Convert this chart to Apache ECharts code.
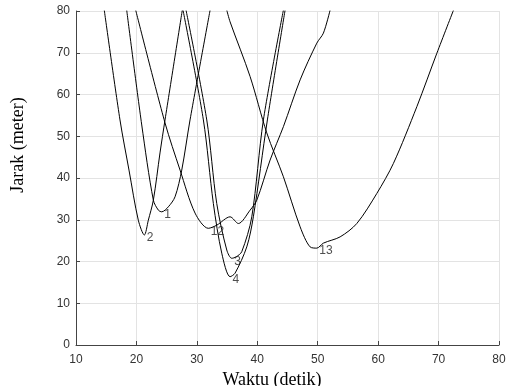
<!DOCTYPE html>
<html>
<head>
<meta charset="utf-8">
<script src="https://cdn.jsdelivr.net/npm/echarts@6/dist/echarts.min.js"></script>
<style>
  html, body { margin: 0; padding: 0; background: #fff; }
  #chart { width: 508px; height: 386px; }
</style>
</head>
<body>
<div id="chart"></div>
<script>
// Distance (m) versus time (s) for each tracked object; the number marks each curve's minimum.
const curve1 = [[18.39, 80.2], [20.88, 52.7], [22.8, 34.7], [23.63, 32.3], [24.19, 31.9], [25.28, 33.1], [26.39, 35.5], [27.5, 41.9], [28.87, 53.9], [32.19, 80.2]];
const curve2 = [[14.68, 80.2], [17.28, 53.9], [18.77, 41.9], [20.31, 29.9], [21.31, 26.35], [21.97, 29.9], [22.8, 34.7], [23.9, 46.0], [24.73, 53.9], [27.59, 80.2]];
const curve3 = [[28.21, 80.2], [31.64, 53.9], [33.29, 33.9], [34.95, 22.75], [35.78, 20.77], [36.49, 21.1], [37.43, 22.35], [39.09, 30.7], [41.01, 53.9], [44.32, 80.2]];
const curve4 = [[27.71, 80.2], [31.08, 53.9], [32.73, 33.9], [34.12, 22.0], [35.5, 16.36], [36.32, 17.2], [38.26, 23.5], [39.35, 30.7], [41.67, 53.9], [44.6, 80.2]];
const curve12 = [[19.88, 80.2], [24.73, 53.2], [27.22, 41.9], [29.7, 31.6], [31.9, 27.95], [33.29, 28.7], [35.5, 30.7], [36.87, 29.1], [38.81, 32.3], [39.92, 34.7], [42.12, 44.3], [44.32, 52.3], [47.09, 63.5], [49.85, 72.3], [50.94, 74.7], [52.05, 80.2]];
const curve13 = [[34.95, 80.2], [35.5, 77.4], [38.81, 64.3], [41.57, 50.8], [44.32, 40.3], [47.09, 28.3], [48.74, 23.5], [49.85, 23.2], [50.94, 24.4], [53.71, 25.9], [56.47, 29.1], [59.78, 36.3], [62.53, 43.5], [66.41, 57.1], [69.72, 69.9], [72.47, 80.2]];

const curveNames = ['1', '2', '3', '4', '12', '13'];
const curveData = [curve1, curve2, curve3, curve4, curve12, curve13];

const xTicks = { min: 10, max: 80, interval: 10 };
const yTicks = { min: 0, max: 80, interval: 10 };

const sansFont = 'Liberation Sans, Arial, sans-serif';
const serifFont = 'Liberation Serif, Times New Roman, serif';

function lineSeries(name, pts) {
  return {
    name: name,
    type: 'line',
    data: pts,
    smooth: 0.3,
    showSymbol: false,
    symbol: 'none',
    clip: true,
    lineStyle: { color: '#000', width: 1 },
    emphasis: { disabled: true },
    z: 2
  };
}

// one text tag per curve, placed at its lowest point
const minLabels = curveData.map((pts, i) => {
  let m = pts[0];
  pts.forEach(p => { if (p[1] < m[1]) m = p; });
  return [m[0], m[1], curveNames[i]];
});

const axisCommon = {
  axisLine: { show: true, lineStyle: { color: '#444', width: 1 } },
  axisTick: { show: true, inside: true, length: 4, lineStyle: { color: '#444' } },
  splitLine: { show: true, lineStyle: { color: '#e3e3e3', width: 1 } },
  axisLabel: { color: '#333', fontFamily: sansFont, fontSize: 12 }
};

const chart = echarts.init(document.getElementById('chart'), null, { renderer: 'canvas' });
chart.setOption({
  animation: false,
  backgroundColor: '#fff',
  grid: { left: 76, right: 9, top: 11, bottom: 41, containLabel: false, outerBoundsMode: 'none' },
  xAxis: Object.assign({}, axisCommon, {
    type: 'value',
    min: xTicks.min, max: xTicks.max, interval: xTicks.interval,
    name: 'Waktu (detik)',
    nameLocation: 'middle',
    nameGap: 23,
    nameTextStyle: { color: '#000', fontFamily: serifFont, fontSize: 18, padding: [0, 31, 0, 0] },
    axisLabel: Object.assign({}, axisCommon.axisLabel, { margin: 9 })
  }),
  yAxis: Object.assign({}, axisCommon, {
    type: 'value',
    min: yTicks.min, max: yTicks.max, interval: yTicks.interval,
    name: 'Jarak (meter)',
    nameLocation: 'middle',
    nameGap: 49,
    nameTextStyle: { color: '#000', fontFamily: serifFont, fontSize: 18, padding: [0, 0, 0, 66] },
    axisLabel: Object.assign({}, axisCommon.axisLabel, { margin: 6 })
  }),
  series: curveNames.map((n, i) => lineSeries(n, curveData[i])).concat([{
    type: 'scatter',
    data: minLabels,
    symbolSize: 1,
    itemStyle: { color: 'rgba(0,0,0,0)' },
    silent: true,
    z: 3,
    label: {
      show: true,
      position: 'right',
      distance: 2,
      offset: [0, 3],
      formatter: p => p.value[2],
      color: '#222',
      fontFamily: sansFont,
      fontSize: 12
    }
  }])
});
</script>
</body>
</html>
